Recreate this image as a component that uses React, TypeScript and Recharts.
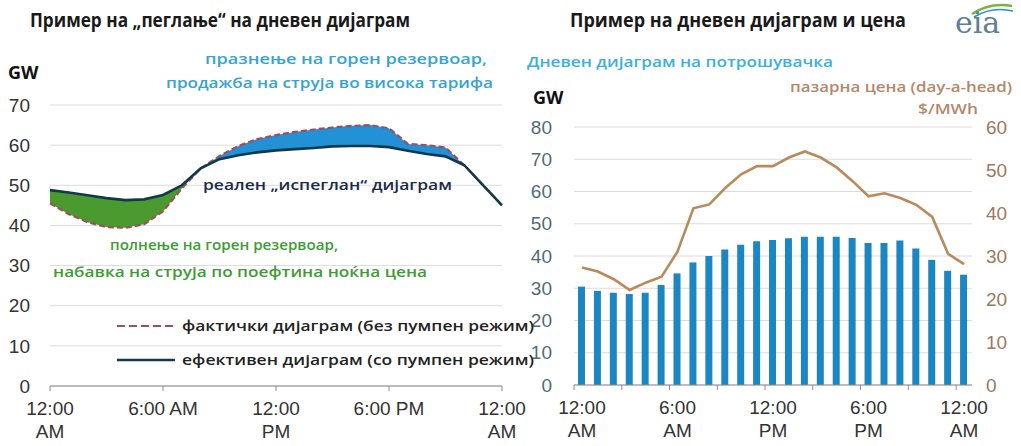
import React from 'react';
import {
  Area,
  Bar,
  CartesianGrid,
  ComposedChart,
  Line,
  XAxis,
  YAxis,
} from 'recharts';

// hours of the day, 0..24
const hours = [0, 1, 2, 3, 4, 5, 6, 7, 8, 9, 10, 11, 12, 13, 14, 15, 16, 17, 18, 19, 20, 21, 22, 23, 24];

// left panel: effective (with pumping) vs actual (without pumping), GW
const effectiveGW = [48.8, 48.2, 47.5, 46.8, 46.3, 46.5, 47.6, 50.0, 54.2, 56.5, 57.5, 58.2, 58.7, 59.0, 59.3, 59.7, 59.8, 59.8, 59.5, 58.6, 57.8, 57.2, 55.0, 50.0, 45.0];
const actualGW = [45.5, 42.8, 40.8, 39.6, 39.4, 40.3, 43.5, 49.2, 54.2, 57.3, 59.8, 61.5, 62.5, 63.3, 63.9, 64.4, 64.8, 65.0, 64.2, 60.3, 60.0, 59.4, 55.0, 50.0, 45.0];
const leftXTicks = [0, 6, 12, 18, 24];
const leftXLabels = [['12:00', 'AM'], ['6:00 AM'], ['12:00', 'PM'], ['6:00 PM'], ['12:00', 'AM']];
const leftYTicks = [0, 10, 20, 30, 40, 50, 60, 70];

// right panel: hourly load (GW) and day-ahead price ($/MWh)
const loadGW = [30.5, 29.2, 28.6, 28.2, 28.6, 31.0, 34.6, 38.0, 40.0, 42.0, 43.5, 44.6, 45.0, 45.5, 46.0, 46.0, 46.0, 45.6, 44.0, 44.0, 44.8, 42.3, 38.8, 35.4, 34.2];
const priceUSD = [27.3, 26.4, 24.6, 22.1, 23.8, 25.2, 31.0, 41.1, 42.0, 45.8, 49.0, 50.9, 50.9, 52.9, 54.3, 52.9, 50.6, 47.4, 43.9, 44.6, 43.5, 41.9, 39.1, 30.5, 28.1];
const rightXLabels: Record<number, string[]> = {
  0: ['12:00', 'AM'],
  6: ['6:00', 'AM'],
  12: ['12:00', 'PM'],
  18: ['6:00', 'PM'],
  24: ['12:00', 'AM'],
};
const gwTicks = [0, 10, 20, 30, 40, 50, 60, 70, 80];
const priceTicks = [0, 10, 20, 30, 40, 50, 60];

const leftData = hours.map((h, i) => {
  const e = effectiveGW[i];
  const a = actualGW[i];
  return {
    h,
    effective: e,
    actual: a,
    charge: [Math.min(a, e), e],
    discharge: [e, Math.max(a, e)],
  };
});

const rightData = hours.map((h, i) => ({ h, load: loadGW[i], price: priceUSD[i] }));

const tickFont = '"Liberation Sans", Arial, sans-serif';
const textFont = '"Open Sans", "Noto Sans", sans-serif';

function LeftXTick(props: any) {
  const { x, y, payload } = props;
  const idx = leftXTicks.indexOf(payload.value);
  const lines = leftXLabels[idx] || [];
  return (
    <g>
      <line x1={x} x2={x} y1={y} y2={y + 5} stroke="#8c8c8c" />
      <text x={x} y={y + 29} textAnchor="middle" fill="#333" fontSize={19} fontFamily={tickFont}>
        {lines.map((t, i) => (
          <tspan key={i} x={x} dy={i === 0 ? 0 : 23}>
            {t}
          </tspan>
        ))}
      </text>
    </g>
  );
}

function RightXTick(props: any) {
  const { x, y, payload, index } = props;
  const half = payload.offset ?? 8;
  const lines = rightXLabels[payload.value];
  return (
    <g>
      {index % 3 === 0 && (
        <line x1={x - half} x2={x - half} y1={y} y2={y + 5} stroke="#8c8c8c" />
      )}
      {lines && (
        <text x={x} y={y + 29} textAnchor="middle" fill="#333" fontSize={19} fontFamily={tickFont}>
          {lines.map((t, i) => (
            <tspan key={i} x={x} dy={i === 0 ? 0 : 23}>
              {t}
            </tspan>
          ))}
        </text>
      )}
    </g>
  );
}

export default function App() {
  return (
    <div
      style={{
        position: 'absolute',
        left: 0,
        top: 0,
        width: 1021,
        height: 446,
        background: '#fff',
        overflow: 'hidden',
      }}
    >
      <div style={{ position: 'absolute', left: 0, top: 0 }}>
        <ComposedChart
          width={545}
          height={446}
          data={leftData}
          margin={{ top: 105, right: 43, bottom: 0, left: 0 }}
        >
          <CartesianGrid vertical={false} stroke="#dcdcdc" />
          <XAxis
            dataKey="h"
            type="number"
            domain={[0, 24]}
            ticks={leftXTicks}
            height={60}
            tickSize={0}
            tickMargin={0}
            tickLine={false}
            axisLine={{ stroke: '#8c8c8c' }}
            tick={<LeftXTick />}
          />
          <YAxis
            width={50}
            domain={[0, 70]}
            ticks={leftYTicks}
            axisLine={false}
            tickLine={false}
            tickSize={0}
            tickMargin={20}
            tick={{ fill: '#333', fontSize: 19, fontFamily: tickFont }}
          />
          <Area
            dataKey="charge"
            type="linear"
            stroke="none"
            fill="#4b9a30"
            fillOpacity={1}
            isAnimationActive={false}
          />
          <Area
            dataKey="discharge"
            type="linear"
            stroke="none"
            fill="#2291d6"
            fillOpacity={1}
            isAnimationActive={false}
          />
          <Line
            dataKey="actual"
            type="linear"
            stroke="#9c4f60"
            strokeWidth={2.2}
            strokeDasharray="6 3"
            dot={false}
            isAnimationActive={false}
          />
          <Line
            dataKey="effective"
            type="linear"
            stroke="#0f3a4a"
            strokeWidth={2.6}
            dot={false}
            isAnimationActive={false}
          />
        </ComposedChart>
      </div>

      <div style={{ position: 'absolute', left: 520, top: 0 }}>
        <ComposedChart
          width={501}
          height={446}
          data={rightData}
          margin={{ top: 127, right: 0, bottom: 0, left: 0 }}
        >
          <CartesianGrid vertical={false} stroke="#dcdcdc" yAxisId="gw" />
          <XAxis
            dataKey="h"
            interval={0}
            height={61}
            tickSize={0}
            tickMargin={0}
            tickLine={false}
            axisLine={{ stroke: '#8c8c8c' }}
            tick={<RightXTick />}
          />
          <YAxis
            yAxisId="gw"
            width={54}
            domain={[0, 80]}
            ticks={gwTicks}
            axisLine={false}
            tickLine={false}
            tickSize={0}
            tickMargin={22}
            tick={{ fill: '#4f6b78', fontSize: 19, fontFamily: tickFont }}
          />
          <YAxis
            yAxisId="price"
            orientation="right"
            width={49}
            domain={[0, 60]}
            ticks={priceTicks}
            axisLine={false}
            tickLine={false}
            tickSize={0}
            tickMargin={14}
            tick={{ fill: '#9a7a5c', fontSize: 19, fontFamily: tickFont }}
          />
          <Bar yAxisId="gw" dataKey="load" fill="#1b86c2" barSize={7} isAnimationActive={false} />
          <Line
            yAxisId="price"
            dataKey="price"
            type="linear"
            stroke="#b88a5c"
            strokeWidth={2.6}
            dot={false}
            isAnimationActive={false}
          />
        </ComposedChart>
      </div>

      <svg
        width={1021}
        height={446}
        style={{ position: 'absolute', left: 0, top: 0, pointerEvents: 'none' }}
      >
        <g fontFamily={textFont}>
          <text x={30} y={27} fontSize={19} fontWeight={700} fill="#1a1a1a" textLength={380} lengthAdjust="spacingAndGlyphs">
            Пример на „пеглање“ на дневен дијаграм
          </text>
          <text x={570} y={27} fontSize={19} fontWeight={700} fill="#1a1a1a" textLength={336} lengthAdjust="spacingAndGlyphs">
            Пример на дневен дијаграм и цена
          </text>
          <text x={8} y={79} fontSize={18} fontWeight={700} fill="#111">GW</text>
          <text x={533} y={104} fontSize={18} fontWeight={700} fill="#111">GW</text>

          <text x={205} y={64} fontSize={15} fontWeight={600} fill="#35a3d3" textLength={282} lengthAdjust="spacingAndGlyphs">
            празнење на горен резервоар,
          </text>
          <text x={166} y={88} fontSize={15} fontWeight={600} fill="#35a3d3" textLength={327} lengthAdjust="spacingAndGlyphs">
            продажба на струја во висока тарифа
          </text>
          <text x={203} y={190} fontSize={15} fontWeight={600} fill="#1b2a4a" textLength={249} lengthAdjust="spacingAndGlyphs">
            реален „испеглан“ дијаграм
          </text>
          <text x={110} y={250} fontSize={15} fontWeight={600} fill="#3f9b35" textLength={228} lengthAdjust="spacingAndGlyphs">
            полнење на горен резервоар,
          </text>
          <text x={53} y={277} fontSize={15} fontWeight={600} fill="#3f9b35" textLength={374} lengthAdjust="spacingAndGlyphs">
            набавка на струја по поефтина ноќна цена
          </text>

          <line x1={117} x2={175} y1={326} y2={326} stroke="#9c4f60" strokeWidth={2.2} strokeDasharray="8 4" />
          <text x={182} y={331} fontSize={15} fontWeight={600} fill="#222" textLength={352} lengthAdjust="spacingAndGlyphs">
            фактички дијаграм (без пумпен режим)
          </text>
          <line x1={117} x2={175} y1={360} y2={360} stroke="#0f3a4a" strokeWidth={2.6} />
          <text x={182} y={365} fontSize={15} fontWeight={600} fill="#222" textLength={352} lengthAdjust="spacingAndGlyphs">
            ефективен дијаграм (со пумпен режим)
          </text>

          <text x={527} y={67} fontSize={15} fontWeight={600} fill="#3ab0de" textLength={306} lengthAdjust="spacingAndGlyphs">
            Дневен дијаграм на потрошувачка
          </text>
          <text x={790} y={92} fontSize={15} fontWeight={600} fill="#b5876a" textLength={222} lengthAdjust="spacingAndGlyphs">
            пазарна цена (day-a-head)
          </text>
          <text x={918} y={114} fontSize={15} fontWeight={600} fill="#b5876a" textLength={60} lengthAdjust="spacingAndGlyphs">
            $/MWh
          </text>
        </g>
        <path d="M972 14 Q990 2 1012 6" fill="none" stroke="#7cb342" strokeWidth={2.5} />
        <path d="M974 17 Q992 6 1013 11" fill="none" stroke="#2b8fc7" strokeWidth={1.5} />
        <text x={955} y={33} fontSize={30} fontFamily='"DejaVu Serif", "Liberation Serif", serif' fill="#5d7f93">
          eia
        </text>
      </svg>
    </div>
  );
}
